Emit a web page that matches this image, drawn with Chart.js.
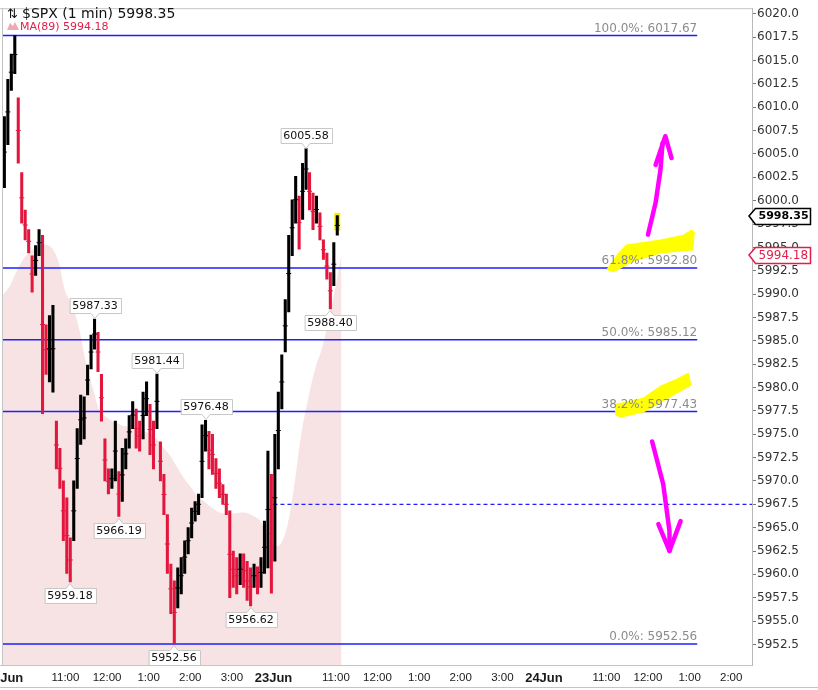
<!DOCTYPE html>
<html>
<head>
<meta charset="utf-8">
<script src="https://cdn.jsdelivr.net/npm/chart.js@4.4.1/dist/chart.umd.min.js"></script>
<style>
  html, body { margin: 0; padding: 0; background: #fff; }
  #wrap { width: 818px; height: 690px; position: relative; }
</style>
</head>
<body>
<div id="wrap"><canvas id="chart"></canvas></div>
<script>
// 5-minute aggregated ranges of the 1-min $SPX bars (session minutes from 20Jun 9:30)
const BAR_STEP = 5;
const highs = [
  6009.0, 6013.0, 6015.7, 6017.67, 6011.0, 6003.0, 5999.0, 5996.9, 5994.1, 5995.2,
  5996.9, 5996.3, 5986.7, 5987.7, 5988.8, 5976.4, 5973.5, 5970.0, 5968.2, 5963.9,
  5970.0, 5975.6, 5979.2, 5979.0, 5982.4, 5985.6, 5987.33, 5985.9, 5981.4, 5974.5,
  5971.3, 5971.3, 5976.4, 5971.0, 5973.5, 5974.5, 5977.0, 5978.5, 5977.7, 5976.4,
  5979.5, 5980.6, 5978.2, 5976.4, 5981.44, 5974.2, 5970.7, 5966.4, 5961.1, 5959.3,
  5960.7, 5961.8, 5963.6, 5965.0, 5967.1, 5967.8, 5968.6, 5976.0, 5976.48, 5975.3,
  5975.0, 5972.4, 5971.3, 5969.6, 5968.6, 5966.8, 5962.5, 5961.8, 5962.2, 5962.2,
  5961.4, 5960.7, 5961.1, 5960.8, 5961.8, 5965.7, 5973.2, 5970.7, 5975.0, 5979.5,
  5983.5, 5989.4, 5996.3, 6000.1, 6002.6, 6000.5, 6004.0, 6005.58, 6003.0, 6000.8,
  6000.5, 5998.7, 5995.8, 5994.4, 5992.3, 5995.5, 5998.4
];
const lows = [
  6001.4, 6006.0, 6011.8, 6013.6, 6004.0, 5997.6, 5995.8, 5994.4, 5990.2, 5992.0,
  5994.1, 5977.2, 5981.4, 5980.6, 5979.5, 5971.3, 5969.2, 5963.6, 5960.1, 5959.18,
  5963.6, 5969.2, 5973.9, 5974.5, 5979.2, 5982.0, 5984.1, 5981.7, 5976.4, 5970.0,
  5968.6, 5969.2, 5970.0, 5966.19, 5967.8, 5971.3, 5973.5, 5975.6, 5973.5, 5973.2,
  5974.5, 5977.0, 5972.8, 5971.3, 5975.6, 5970.0, 5966.4, 5960.1, 5955.8, 5952.56,
  5956.4, 5957.9, 5960.1, 5962.2, 5963.9, 5965.7, 5966.4, 5968.2, 5973.2, 5971.3,
  5970.7, 5969.2, 5968.2, 5967.5, 5966.4, 5957.5, 5958.6, 5957.9, 5958.9, 5958.6,
  5957.2, 5956.62, 5958.6, 5957.9, 5958.6, 5960.1, 5960.7, 5958.0, 5961.4, 5971.3,
  5977.7, 5983.8, 5988.1, 5994.1, 5997.6, 5994.8, 5998.0, 6001.2, 5999.0, 5996.9,
  5997.6, 5995.8, 5993.7, 5991.6, 5988.4, 5990.9, 5996.3
];

// MA(89) shaded area
const maMinutes = [0, 10, 20, 30, 40, 50, 60, 70, 80, 90, 100, 110, 120, 130, 140, 150, 160, 170,
  180, 190, 200, 210, 220, 230, 240, 250, 260, 270, 280, 290, 300, 310, 320, 330, 340, 350,
  360, 370, 380, 390, 400, 410, 420, 430, 440, 450, 460, 470, 480, 488];
const maValues = [5989.9, 5990.9, 5992.5, 5993.8, 5994.6, 5995.1, 5995.3, 5995.0, 5993.5, 5990.2,
  5988.8, 5986.2, 5982.5, 5979.8, 5977.4, 5976.8, 5976.3, 5976.0, 5975.8, 5975.6, 5975.4,
  5975.1, 5974.6, 5973.7, 5972.8, 5971.6, 5970.4, 5969.4, 5968.4, 5967.8, 5967.2, 5966.7,
  5966.5, 5966.5, 5966.6, 5966.6, 5966.3, 5965.8, 5964.4, 5963.1, 5963.2, 5965.2, 5969.5,
  5975.0, 5978.8, 5982.0, 5984.2, 5987.4, 5991.0, 5994.2];

// Fibonacci retracement
const fibPct = ['100.0%', '61.8%', '50.0%', '38.2%', '0.0%'];
const fibLevels = [6017.67, 5992.80, 5985.12, 5977.43, 5952.56];
const fibEnd = 1001;
const dashLevel = 5967.5;
const dashStart = 390;

// swing labels: bar index + side
const pivotBars = [26, 44, 58, 87, 94, 33, 19, 49, 71];
const pivotUp = [true, true, true, true, false, false, false, false, false];

const lastPrice = 5998.35;
const lastMA = 5994.18;

const yTicks = [5952.5, 5955.0, 5957.5, 5960.0, 5962.5, 5965.0, 5967.5, 5970.0, 5972.5, 5975.0,
  5977.5, 5980.0, 5982.5, 5985.0, 5987.5, 5990.0, 5992.5, 5995.0, 5997.5, 6000.0, 6002.5,
  6005.0, 6007.5, 6010.0, 6012.5, 6015.0, 6017.5, 6020.0];
const xTickMinutes = [0, 90, 150, 210, 270, 330, 390, 480, 540, 600, 660, 720, 780, 870, 930, 990, 1050];
const xTickLabels = ['20Jun', '11:00', '12:00', '1:00', '2:00', '3:00', '23Jun', '11:00', '12:00',
  '1:00', '2:00', '3:00', '24Jun', '11:00', '12:00', '1:00', '2:00'];

// hand drawn marks (minute, price)
const yellowUp = [[872, 5992.64], [887, 5994.24], [899, 5995.19], [948, 5995.73], [981, 5996.26],
  [993, 5996.79], [996, 5996.58], [994, 5994.77], [948, 5994.45], [909, 5993.6], [880, 5992.43]];
const yellowDown = [[884, 5977.1], [884, 5978.16], [923, 5978.8], [948, 5980.08], [971, 5980.82],
  [988, 5981.46], [991, 5980.29], [956, 5978.8], [923, 5977.42], [890, 5976.88]];
const arrowUpStem = [[930, 5996.36], [941, 5999.77], [948, 6003.29], [951, 6006.16]];
const arrowUpHead = [[941, 6003.82], [955, 6006.9], [964, 6004.56]];
const arrowDownStem = [[936, 5974.22], [952, 5969.64], [961, 5964.64], [961, 5962.51]];
const arrowDownHead = [[945, 5965.38], [961, 5962.51], [977, 5965.7]];

const RED = '#e3173e';
const BLUE = '#1f1fff';

const barX = (i) => i * BAR_STEP + 2;
const barColors = highs.map((h, i) => {
  if (i === 0) return '#000';
  const mid = (h + lows[i]) / 2;
  const prev = (highs[i - 1] + lows[i - 1]) / 2;
  return mid >= prev ? '#000' : RED;
});

const datasets = [
  {
    type: 'bar',
    data: highs.map((h, i) => ({ x: barX(i), y: [lows[i], h] })),
    backgroundColor: barColors,
    barThickness: 2.4,
    grouped: false,
    order: 1,
  },
  {
    // small open/close style ticks on each bar
    type: 'line',
    data: highs.map((h, i) => ({ x: barX(i), y: (h + lows[i]) / 2 })),
    showLine: false,
    pointStyle: 'line',
    pointRadius: 2.5,
    pointBorderWidth: 1,
    pointBorderColor: barColors,
    order: 0,
  },
  {
    type: 'line',
    data: maMinutes.map((m, i) => ({ x: m, y: maValues[i] })),
    fill: 'start',
    backgroundColor: '#f7e3e3',
    borderWidth: 0,
    pointRadius: 0,
    tension: 0.3,
    order: 9,
  },
];
fibLevels.forEach((lv) => {
  datasets.push({
    type: 'line',
    data: [{ x: 0, y: lv }, { x: fibEnd, y: lv }],
    borderColor: BLUE,
    borderWidth: 1.5,
    pointRadius: 0,
    order: 3,
  });
});
datasets.push({
  type: 'line',
  data: [{ x: dashStart, y: dashLevel }, { x: 1080, y: dashLevel }],
  borderColor: BLUE,
  borderWidth: 1.2,
  borderDash: [4, 3],
  pointRadius: 0,
  order: 3,
});

function poly(ctx, xs, ys, pts) {
  ctx.beginPath();
  pts.forEach((p, i) => {
    const px = xs.getPixelForValue(p[0]);
    const py = ys.getPixelForValue(p[1]);
    if (i === 0) ctx.moveTo(px, py); else ctx.lineTo(px, py);
  });
}

function pivotLabel(ctx, x, y, text, up) {
  ctx.font = '11px "DejaVu Sans"';
  const w = Math.round(ctx.measureText(text).width) + 6;
  const h = 15;
  const bx = Math.round(x - w / 2) + 0.5;
  const by = Math.round(up ? y - 6 - h : y + 6) + 0.5;
  ctx.beginPath();
  if (up) {
    ctx.moveTo(bx, by);
    ctx.lineTo(bx + w, by);
    ctx.lineTo(bx + w, by + h);
    ctx.lineTo(x + 4, by + h);
    ctx.lineTo(x, by + h + 5);
    ctx.lineTo(x - 4, by + h);
    ctx.lineTo(bx, by + h);
  } else {
    ctx.moveTo(bx, by);
    ctx.lineTo(x - 4, by);
    ctx.lineTo(x, by - 5);
    ctx.lineTo(x + 4, by);
    ctx.lineTo(bx + w, by);
    ctx.lineTo(bx + w, by + h);
    ctx.lineTo(bx, by + h);
  }
  ctx.closePath();
  ctx.fillStyle = '#fff';
  ctx.fill();
  ctx.strokeStyle = '#c8c8c8';
  ctx.lineWidth = 1;
  ctx.stroke();
  ctx.fillStyle = '#111';
  ctx.textAlign = 'center';
  ctx.textBaseline = 'middle';
  ctx.fillText(text, x, by + h / 2 + 0.5);
}

function priceTag(ctx, y, text, color, bold) {
  ctx.font = (bold ? 'bold 11px' : '12px') + ' "DejaVu Sans"';
  const w = Math.round(ctx.measureText(text).width) + 5;
  const x0 = 755.5, h = 16;
  const top = Math.round(y - h / 2) + 0.5;
  ctx.beginPath();
  ctx.moveTo(749, y);
  ctx.lineTo(x0, top);
  ctx.lineTo(x0 + w, top);
  ctx.lineTo(x0 + w, top + h);
  ctx.lineTo(x0, top + h);
  ctx.closePath();
  ctx.fillStyle = '#fff';
  ctx.fill();
  ctx.strokeStyle = color;
  ctx.lineWidth = 1.5;
  ctx.stroke();
  ctx.fillStyle = color;
  ctx.textAlign = 'left';
  ctx.textBaseline = 'middle';
  ctx.fillText(text, x0 + 3, y + 0.5);
}

const overlay = {
  id: 'overlay',
  beforeDatasetsDraw(chart) {
    const { ctx, scales: { x: xs, y: ys } } = chart;
    // yellow marker behind the last bar
    const li = highs.length - 1;
    const lx = xs.getPixelForValue(barX(li));
    const t = ys.getPixelForValue(highs[li] + 0.3);
    const b = ys.getPixelForValue(highs[li] - 1.6);
    ctx.save();
    ctx.fillStyle = '#f4f000';
    ctx.fillRect(lx - 3, t, 6, b - t);
    ctx.restore();
  },
  afterDatasetsDraw(chart) {
    const { ctx, scales: { x: xs, y: ys } } = chart;
    ctx.save();
    // highlighter strokes
    ctx.fillStyle = '#ffff00';
    ctx.strokeStyle = '#ffff00';
    ctx.lineWidth = 2;
    ctx.lineJoin = 'round';
    [yellowUp, yellowDown].forEach((pts) => {
      poly(ctx, xs, ys, pts);
      ctx.closePath();
      ctx.fill();
      ctx.stroke();
    });
    // fib labels
    ctx.font = '12px "DejaVu Sans"';
    ctx.fillStyle = '#8c8c8c';
    ctx.textAlign = 'right';
    ctx.textBaseline = 'alphabetic';
    fibLevels.forEach((lv, i) => {
      ctx.fillText(fibPct[i] + ': ' + lv.toFixed(2), xs.getPixelForValue(fibEnd), ys.getPixelForValue(lv) - 4);
    });
    // arrows
    ctx.strokeStyle = '#ff00ff';
    ctx.lineWidth = 4.5;
    ctx.lineCap = 'round';
    [arrowUpStem, arrowUpHead, arrowDownStem, arrowDownHead].forEach((pts) => {
      poly(ctx, xs, ys, pts);
      ctx.stroke();
    });
    // swing labels
    pivotBars.forEach((bi, k) => {
      const v = pivotUp[k] ? highs[bi] : lows[bi];
      pivotLabel(ctx, Math.round(xs.getPixelForValue(barX(bi))), ys.getPixelForValue(v), v.toFixed(2), pivotUp[k]);
    });
    ctx.restore();
  },
  afterDraw(chart) {
    const { ctx, chartArea: a, scales: { x: xs, y: ys } } = chart;
    ctx.save();
    // frame lines
    ctx.strokeStyle = '#c4c4c4';
    ctx.lineWidth = 1;
    ctx.beginPath();
    ctx.moveTo(0, a.top + 0.5); ctx.lineTo(a.right, a.top + 0.5);
    ctx.moveTo(a.left - 0.5, a.top); ctx.lineTo(a.left - 0.5, a.bottom);
    ctx.moveTo(0, a.bottom + 0.5); ctx.lineTo(a.right, a.bottom + 0.5);
    ctx.moveTo(0, 687.5); ctx.lineTo(818, 687.5);
    ctx.stroke();
    // x labels
    ctx.fillStyle = '#1a1a1a';
    ctx.textAlign = 'center';
    ctx.textBaseline = 'middle';
    xTickMinutes.forEach((m, i) => {
      const lab = xTickLabels[i];
      const day = lab.indexOf('Jun') > 0;
      ctx.font = day ? 'bold 13px "Liberation Sans"' : '11.5px "Liberation Sans"';
      let px = xs.getPixelForValue(m);
      if (i === 0) px += 1.5;
      ctx.fillText(lab, px, a.bottom + 13);
    });
    // title
    ctx.textAlign = 'left';
    ctx.textBaseline = 'alphabetic';
    ctx.fillStyle = '#111';
    ctx.font = '13px "DejaVu Sans"';
    ctx.fillText('\u21C5', 7, 18);
    ctx.font = '14px "DejaVu Sans"';
    ctx.fillText('$SPX (1 min) ' + lastPrice.toFixed(2), 22, 18);
    ctx.fillStyle = '#f0a8b4';
    ctx.beginPath();
    ctx.moveTo(7, 30); ctx.lineTo(10, 23); ctx.lineTo(13, 26); ctx.lineTo(15, 22); ctx.lineTo(19, 30);
    ctx.closePath();
    ctx.fill();
    ctx.fillStyle = '#e0204a';
    ctx.font = '11px "DejaVu Sans"';
    ctx.fillText('MA(89) ' + lastMA.toFixed(2), 20, 30);
    // price tags on the axis
    priceTag(ctx, ys.getPixelForValue(lastMA), lastMA.toFixed(2), '#e0204a', false);
    priceTag(ctx, ys.getPixelForValue(lastPrice), lastPrice.toFixed(2), '#000', true);
    ctx.restore();
  },
};

new Chart(document.getElementById('chart'), {
  type: 'bar',
  data: { datasets },
  options: {
    responsive: true,
    maintainAspectRatio: false,
    animation: false,
    layout: { autoPadding: false, padding: { left: 3, top: 4, right: 0, bottom: 25 } },
    plugins: { legend: { display: false }, tooltip: { enabled: false } },
    scales: {
      x: {
        type: 'linear',
        min: 0,
        max: 1080,
        offset: false,
        display: false,
      },
      y: {
        position: 'right',
        min: 5950.3,
        max: 6020.6,
        afterBuildTicks: (s) => { s.ticks = yTicks.map((v) => ({ value: v })); },
        afterFit: (s) => { s.width = 66; },
        grid: { drawOnChartArea: false, tickLength: 4, color: '#777' },
        border: { color: '#b8b8b8' },
        ticks: {
          autoSkip: false,
          padding: 1,
          color: '#333',
          font: { family: 'DejaVu Sans', size: 12 },
          callback: (v) => Number(v).toFixed(1),
        },
      },
    },
  },
  plugins: [overlay],
});
</script>
</body>
</html>
